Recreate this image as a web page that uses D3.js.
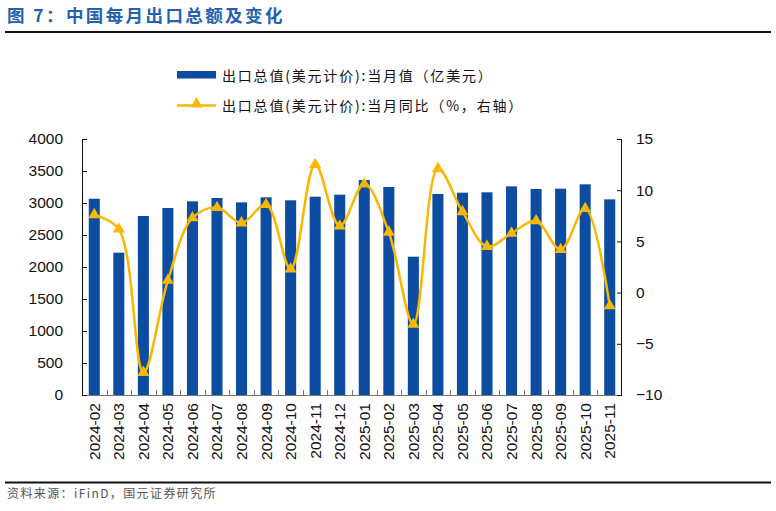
<!DOCTYPE html>
<html>
<head>
<meta charset="utf-8">
<script src="https://cdn.jsdelivr.net/npm/d3@7"></script>
<style>
    body { margin: 0; background: #fff; }
    svg { display: block; }
    text { font-family: "Liberation Sans", Arial, sans-serif; }
    .cjk { font-family: "Noto Sans CJK SC", sans-serif; }
</style>
</head>
<body>
<svg id="chart" width="776" height="511"></svg>
<script>
// data
const months = ['2024-02', '2024-03', '2024-04', '2024-05', '2024-06', '2024-07', '2024-08', '2024-09',
    '2024-10', '2024-11', '2024-12', '2025-01', '2025-02', '2025-03', '2025-04', '2025-05',
    '2025-06', '2025-07', '2025-08', '2025-09', '2025-10', '2025-11'];
// 出口总值 当月值 (亿美元)
const exportValue = [3067, 2224, 2797, 2922, 3026, 3078, 3010, 3089, 3042, 3099, 3130,
    3359, 3250, 2161, 3141, 3161, 3167, 3260, 3219, 3224, 3292, 3057];
// 当月同比 (%)
const exportYoy = [7.6, 6.2, -7.8, 1.2, 7.3, 8.3, 6.8, 8.6, 2.3, 12.5, 6.5,
    10.6, 5.9, -3.1, 12.1, 7.9, 4.5, 5.8, 7.0, 4.2, 8.2, -1.3];
const leftTicks = [0, 500, 1000, 1500, 2000, 2500, 3000, 3500, 4000];
const rightTicks = [-10, -5, 0, 5, 10, 15];

const titleText = '图 7：中国每月出口总额及变化';
const sourceText = '资料来源：iFinD，国元证券研究所';
const legendLabels = ['出口总值(美元计价):当月值（亿美元）', '出口总值(美元计价):当月同比（%，右轴）'];

const barColor = '#0c4da2';
const lineColor = '#f9b700';

const svg = d3.select('#chart');
const margin = {left: 82, right: 154, top: 139, bottom: 116};
const plotW = 776 - margin.left - margin.right;
const plotH = 511 - margin.top - margin.bottom;

// title + rules
svg.append('text')
    .attr('class', 'cjk')
    .attr('x', 7)
    .attr('y', 22)
    .attr('fill', '#2462b0')
    .attr('font-size', 17.5)
    .attr('font-weight', 'bold')
    .attr('letter-spacing', 2.4)
    .text(titleText);

svg.append('rect').attr('x', 5).attr('y', 31).attr('width', 766).attr('height', 2).attr('fill', '#111');
svg.append('rect').attr('x', 5).attr('y', 481.5).attr('width', 766).attr('height', 2).attr('fill', '#111');

svg.append('text')
    .attr('class', 'cjk')
    .attr('x', 7)
    .attr('y', 498)
    .attr('fill', '#555')
    .attr('font-size', 12)
    .attr('letter-spacing', 1.4)
    .text(sourceText);

// scales
let x = d3.scaleBand()
    .domain(months)
    .range([0, plotW])
    .paddingInner(0.55)
    .paddingOuter(0.275);

let yLeft = d3.scaleLinear().domain([0, 4000]).range([plotH, 0]);
let yRight = d3.scaleLinear().domain([-10, 15]).range([plotH, 0]);

let g = svg.append('g')
    .attr('transform', `translate(${margin.left},${margin.top})`);

// bars
g.selectAll('rect.bar')
    .data(exportValue)
    .join('rect')
    .attr('class', 'bar')
    .attr('x', (d, i) => x(months[i]))
    .attr('y', d => yLeft(d))
    .attr('width', x.bandwidth())
    .attr('height', d => plotH - yLeft(d))
    .attr('fill', barColor);

// bottom axis line + ticks at band boundaries
let step = x.step();
g.append('line')
    .attr('x1', 0).attr('x2', plotW)
    .attr('y1', plotH + 0.5).attr('y2', plotH + 0.5)
    .attr('stroke', '#777').attr('stroke-width', 1.2);

g.selectAll('line.xtick')
    .data(d3.range(1, months.length))
    .join('line')
    .attr('class', 'xtick')
    .attr('x1', i => Math.round(i * step) + 0.5)
    .attr('x2', i => Math.round(i * step) + 0.5)
    .attr('y1', plotH)
    .attr('y2', plotH - 5)
    .attr('stroke', '#777');

g.selectAll('text.xlabel')
    .data(months)
    .join('text')
    .attr('class', 'xlabel')
    .attr('transform', d => `translate(${x(d) + x.bandwidth() / 2},${plotH + 8}) rotate(-90)`)
    .attr('text-anchor', 'end')
    .attr('dy', '0.35em')
    .attr('font-size', 15.5)
    .attr('fill', '#111')
    .text(d => d);

// left axis
let leftAxis = d3.axisLeft(yLeft)
    .tickValues(leftTicks)
    .tickFormat(d3.format('d'))
    .tickSize(-5)
    .tickPadding(19);

g.append('g')
    .call(leftAxis)
    .call(a => a.select('.domain').attr('d', `M0.5,0V${plotH}`).attr('stroke', '#111'))
    .call(a => a.selectAll('.tick line').attr('stroke', '#111'))
    .call(a => a.selectAll('.tick text')
        .attr('font-size', 15.5)
        .attr('font-family', '"Liberation Sans", Arial, sans-serif')
        .attr('fill', '#111'));

// right axis
let rightAxis = d3.axisRight(yRight)
    .tickValues(rightTicks)
    .tickFormat(d3.format('d'))
    .tickSize(-5)
    .tickPadding(14);

g.append('g')
    .attr('transform', `translate(${plotW},0)`)
    .call(rightAxis)
    .call(a => a.select('.domain').attr('d', `M-0.5,0V${plotH}`).attr('stroke', '#111'))
    .call(a => a.selectAll('.tick line').attr('stroke', '#111'))
    .call(a => a.selectAll('.tick text')
        .attr('font-size', 15.5)
        .attr('font-family', '"Liberation Sans", Arial, sans-serif')
        .attr('fill', '#111'));

// smoothed yoy line
let line = d3.line()
    .x((d, i) => x(months[i]) + x.bandwidth() / 2)
    .y(d => yRight(d))
    .curve(d3.curveCatmullRom.alpha(0.5));

g.append('path')
    .datum(exportYoy)
    .attr('d', line)
    .attr('fill', 'none')
    .attr('stroke', lineColor)
    .attr('stroke-width', 2.5);

let tri = d3.symbol().type(d3.symbolTriangle).size(62);

g.selectAll('path.marker')
    .data(exportYoy)
    .join('path')
    .attr('class', 'marker')
    .attr('d', tri)
    .attr('transform', (d, i) => `translate(${x(months[i]) + x.bandwidth() / 2},${yRight(d)})`)
    .attr('fill', lineColor);

// legend
let legend = svg.append('g').attr('transform', 'translate(177,0)');

legend.append('rect')
    .attr('x', 0).attr('y', 71)
    .attr('width', 39).attr('height', 7.5)
    .attr('fill', barColor);

legend.append('line')
    .attr('x1', 0).attr('x2', 39)
    .attr('y1', 105.5).attr('y2', 105.5)
    .attr('stroke', lineColor)
    .attr('stroke-width', 2.5);

legend.append('path')
    .attr('d', tri)
    .attr('transform', 'translate(19.5,104)')
    .attr('fill', lineColor);

legend.selectAll('text')
    .data(legendLabels)
    .join('text')
    .attr('class', 'cjk')
    .attr('x', 45)
    .attr('y', (d, i) => 80.5 + i * 30)
    .attr('font-size', 14)
    .attr('letter-spacing', 1.8)
    .attr('fill', '#111')
    .text(d => d);
</script>
</body>
</html>
